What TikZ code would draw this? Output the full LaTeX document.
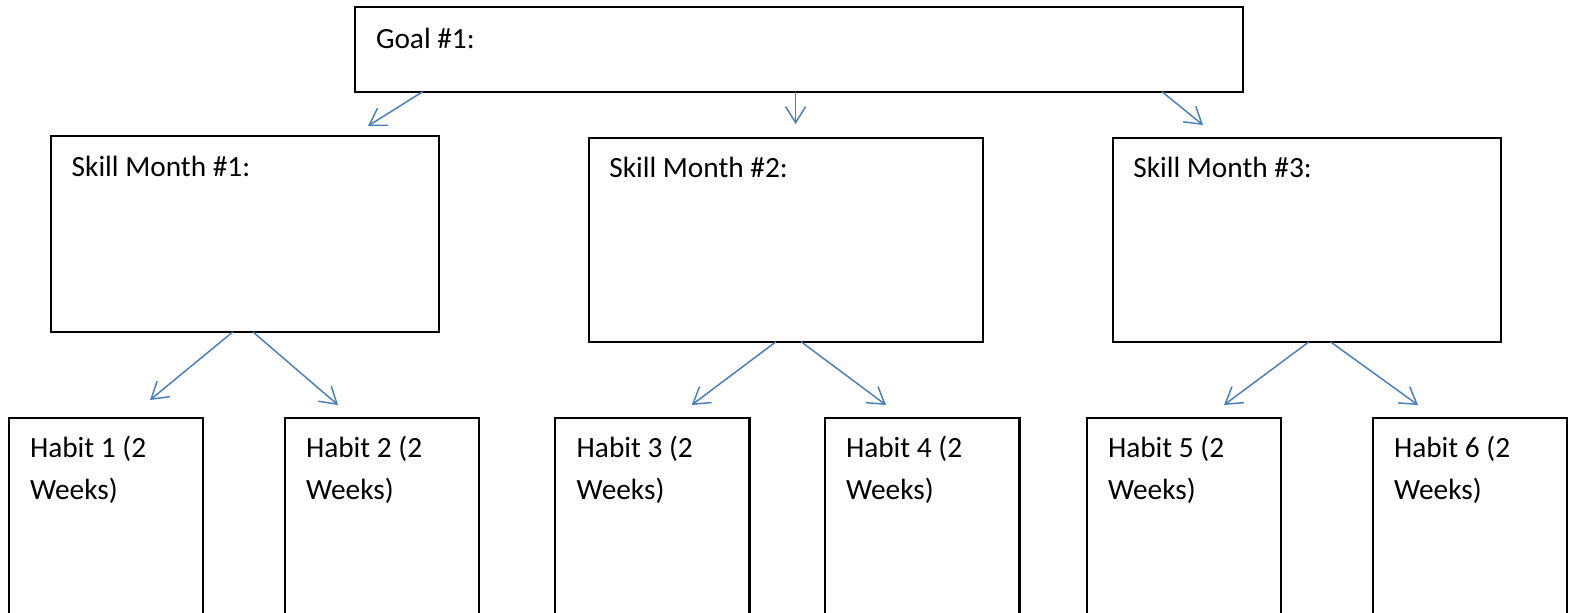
\documentclass[tikz,border=0pt]{standalone}
\usepackage{fontspec}
\setmainfont{Carlito}
\usetikzlibrary{arrows.meta}
\definecolor{arrblue}{HTML}{4A7EBB}
\tikzset{
  box/.style={draw=black, line width=1.75pt, fill=white, rectangle, anchor=north west, inner sep=0pt, outer sep=0pt},
  lbl/.style={anchor=base west, inner sep=0pt, outer sep=0pt, align=left, font=\fontsize{22pt}{31.3pt}\selectfont},
  arr/.style={draw=arrblue, line width=1.1pt, -{Straight Barb[length=12pt, width=15pt, line width=1.1pt]}},
}
\begin{document}
\begin{tikzpicture}[x=0.75pt, y=-0.75pt]
\useasboundingbox (0,0) rectangle (1575,612);
\clip (0,0) rectangle (1575,612);
% boxes
\node[box, minimum width=888*0.75pt, minimum height=84.4*0.75pt] (g) at (354.7,7.3) {};
\node[box, minimum width=388*0.75pt, minimum height=196.3*0.75pt] (s1) at (51,135.7) {};
\node[box, minimum width=394*0.75pt, minimum height=203.4*0.75pt] (s2) at (589,138.3) {};
\node[box, minimum width=388*0.75pt, minimum height=203.7*0.75pt] (s3) at (1113,138.3) {};
\node[box, minimum width=194.4*0.75pt, minimum height=240*0.75pt] (h1) at (8.7,418.3) {};
\node[box, minimum width=194.4*0.75pt, minimum height=240*0.75pt] (h2) at (284.7,418.3) {};
\node[box, minimum width=194.4*0.75pt, minimum height=240*0.75pt] (h3) at (555,418.3) {};
\node[box, minimum width=194.4*0.75pt, minimum height=240*0.75pt] (h4) at (825,418.3) {};
\node[box, minimum width=194.4*0.75pt, minimum height=240*0.75pt] (h5) at (1086.7,418.3) {};
\node[box, minimum width=194.4*0.75pt, minimum height=240*0.75pt] (h6) at (1372.7,418.3) {};
% texts (base anchor = baseline of the last line)
\node[lbl] (gt) at (376,48) {Goal \#1:};
\node[lbl] (s1t) at (71.7,176) {Skill Month \#1:};
\node[lbl] (s2t) at (609.3,177.5) {Skill Month \#2:};
\node[lbl] (s3t) at (1133.3,177.5) {Skill Month \#3:};
\node[lbl] (h1t) at (30,499) {Habit 1 (2\\Weeks)};
\node[lbl] (h2t) at (306,499) {Habit 2 (2\\Weeks)};
\node[lbl] (h3t) at (576.7,499) {Habit 3 (2\\Weeks)};
\node[lbl] (h4t) at (846,499) {Habit 4 (2\\Weeks)};
\node[lbl] (h5t) at (1108,499) {Habit 5 (2\\Weeks)};
\node[lbl] (h6t) at (1394,499) {Habit 6 (2\\Weeks)};
% arrow end points
\coordinate (e1) at (368,126);
\coordinate (e2) at (795.6,124);
\coordinate (e3) at (1203,125);
\coordinate (e4) at (150,400);
\coordinate (e5) at (338,405);
\coordinate (e6) at (691.7,405);
\coordinate (e7) at (886,405);
\coordinate (e8) at (1224,405);
\coordinate (e9) at (1418,405);
% arrow start x positions
\coordinate (b1) at (422.7,0);
\coordinate (b2) at (795.6,0);
\coordinate (b3) at (1162,0);
\coordinate (b4) at (232.7,0);
\coordinate (b5) at (253,0);
\coordinate (b6) at (776,0);
\coordinate (b7) at (801,0);
\coordinate (b8) at (1308.7,0);
\coordinate (b9) at (1330.7,0);
% connectors
\draw[arr] (g.south -| b1) -- (e1);
\draw[arr] (g.south -| b2) -- (e2);
\draw[arr] (g.south -| b3) -- (e3);
\draw[arr] (s1.south -| b4) -- (e4);
\draw[arr] (s1.south -| b5) -- (e5);
\draw[arr] (s2.south -| b6) -- (e6);
\draw[arr] (s2.south -| b7) -- (e7);
\draw[arr] (s3.south -| b8) -- (e8);
\draw[arr] (s3.south -| b9) -- (e9);
\end{tikzpicture}
\end{document}
